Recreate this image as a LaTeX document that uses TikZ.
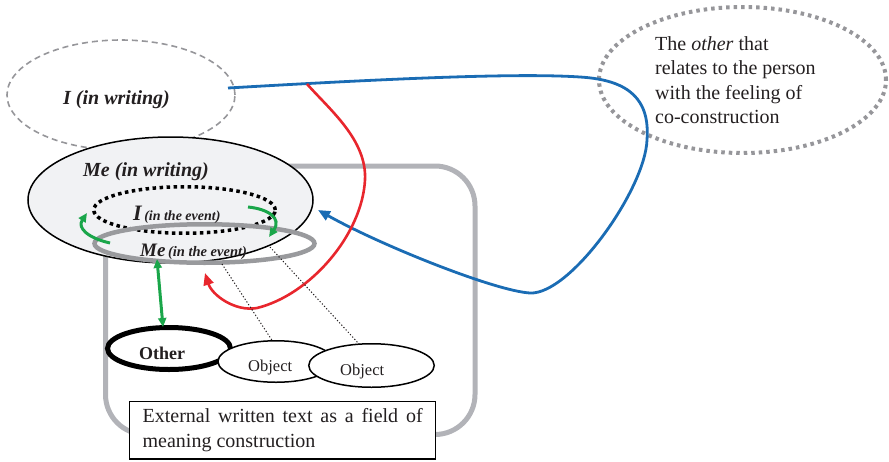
\documentclass[tikz,border=0pt]{standalone}
\usepackage{fontspec}
\setmainfont{Liberation Serif}
\usetikzlibrary{shapes.geometric,arrows.meta}
\definecolor{framegray}{RGB}{178,179,184}
\definecolor{eventgray}{RGB}{153,154,157}
\definecolor{dashgray}{RGB}{150,150,154}
\definecolor{mefill}{RGB}{241,242,244}
\definecolor{ink}{RGB}{35,31,32}
\definecolor{grn}{RGB}{26,166,74}
\definecolor{rd}{RGB}{232,38,45}
\definecolor{blu}{RGB}{26,108,180}
\newcommand\setfs[2]{\fontsize{#1}{#2}\selectfont}
\begin{document}
\begin{tikzpicture}[x=1pt,y=-1pt,
  oval/.style={ellipse, inner sep=0pt, outer sep=0pt},
  lbl/.style={inner sep=0pt, anchor=base west, text=ink},
  greenarrow/.style={draw=grn, line width=3pt, -{Triangle[width=8pt,length=9pt]}},
  redarrow/.style={draw=rd, line width=2.6pt, -{Triangle[width=10pt,length=12pt]}},
  bluearrow/.style={draw=blu, line width=2.8pt, -{Triangle[width=10pt,length=12pt]}},
  thread/.style={draw=ink, line width=1pt, dash pattern=on 1.2pt off 2pt}]
\useasboundingbox (0,0) rectangle (889,461);

% the writing self seen from outside
\node[oval, draw=dashgray, line width=1.6pt, dash pattern=on 6pt off 4pt,
      minimum width=228pt, minimum height=110pt] (iw) at (121,95) {};

% field of the event
\draw[framegray, line width=5pt, rounded corners=40pt]
  (105.5,166) rectangle (475,434.5);

% the other of co-construction
\node[oval, draw=dashgray, line width=4pt, dash pattern=on 3.5pt off 4pt,
      minimum width=287pt, minimum height=146pt] (oc) at (742.5,80) {};
\node[inner sep=0pt, anchor=north west, align=left, text=ink,
      font=\setfs{20}{24.5}] (octxt) at (655,36.3)
  {The \emph{other} that\\relates to the person\\with the feeling of\\co-construction};

% connector coordinates
\coordinate (bS) at (228,88);
\coordinate (bE) at (318,210);
\coordinate (rS) at (307,84);
\coordinate (rE) at (205,273);

% blue relation
\draw[bluearrow] (bS) .. controls (400,78) and (520,73) .. (580,77)
  .. controls (630,80) and (650,100) .. (647,140)
  .. controls (645,190) and (570,295) .. (530,293)
  .. controls (495,291) and (380,245) .. (bE);

% red return
\draw[redarrow] (rS) .. controls (330,110) and (367,140) .. (365,180)
  .. controls (362,235) and (310,295) .. (257,308)
  .. controls (235,312) and (212,295) .. (rE);

% the writing self
\node[oval, draw=black, fill=mefill, line width=1.5pt,
      minimum width=285pt, minimum height=126pt] (mw) at (170.5,200) {};
\node[lbl, font=\setfs{20}{24}\bfseries\itshape] (mwtxt) at (83,176) {Me (in writing)};
\node[lbl, font=\setfs{20}{24}\bfseries\itshape] (iwtxt) at (63,104) {I (in writing)};

% the self in the event
\node[oval, draw=black, line width=3.5pt, dash pattern=on 3.5pt off 3.5pt,
      minimum width=181.5pt, minimum height=46.5pt] (ie) at (184.5,210) {};
\node[oval, draw=eventgray, line width=4.5pt,
      minimum width=220pt, minimum height=38.5pt] (me) at (204.5,243.5) {};
\node[lbl, font=\bfseries\itshape] (ietxt) at (133,220)
  {{\setfs{22}{24}I} {\setfs{14}{16}(in the event)}};
\node[lbl, font=\bfseries\itshape] (metxt) at (140,256)
  {{\setfs{19}{22}Me} {\setfs{14.5}{16}(in the event)}};

% green circulation
\coordinate (gL1) at (110,243);
\coordinate (gL2) at (87,213);
\coordinate (gR1) at (248,207);
\coordinate (gR2) at (269,237);
\coordinate (gU) at (157,259);
\coordinate (gD) at (163,327);
\draw[greenarrow] (gL1) .. controls (88,238) and (77,228) .. (gL2);
\draw[greenarrow] (gR1) .. controls (268,209) and (282,218) .. (gR2);

% other and objects
\node[oval, draw=black, fill=white, line width=5pt,
      minimum width=123pt, minimum height=42pt] (oth) at (169,348.5) {};
\node[oval, draw=black, fill=white, line width=1.5pt,
      minimum width=116pt, minimum height=41.5pt] (obA) at (276,361.5) {};
\node[oval, draw=black, fill=white, line width=1.5pt,
      minimum width=125.5pt, minimum height=43.5pt] (obB) at (371.5,365.5) {};
\node[lbl, font=\setfs{18}{20}\bfseries] (othtxt) at (139,359) {Other};
\node[lbl, font=\setfs{16.5}{20}] (obAtxt) at (248,371.5) {Object};
\node[lbl, font=\setfs{16.5}{20}] (obBtxt) at (340,375) {Object};

\draw[greenarrow, {Triangle[width=8pt,length=9pt]}-{Triangle[width=8pt,length=9pt]}] (gU) -- (gD);

% threads from the self to the objects
\coordinate (tA) at (222,264);
\coordinate (tB) at (270,247);
\draw[thread] (tA) -- (obA.100);
\draw[thread] (tB) -- (obB.120);

% caption box
\node[draw=black, fill=white, line width=1.3pt, anchor=north west,
      text width=280pt, inner xsep=13pt, inner ysep=7pt, align=justify,
      text=ink, font=\setfs{20}{25}] (ext) at (129,401)
  {External written text as a field of meaning construction};
\end{tikzpicture}
\end{document}
